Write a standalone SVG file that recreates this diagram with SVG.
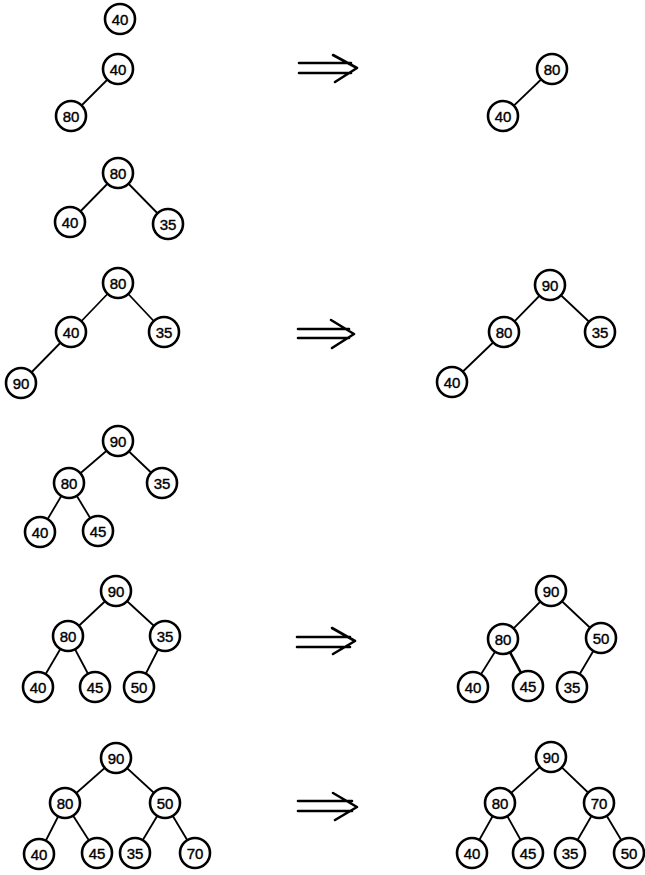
<svg xmlns="http://www.w3.org/2000/svg" width="645" height="875" viewBox="0 0 645 875">
<style>
.n circle{fill:#fff;stroke:#000;stroke-width:2.6}
.n text{font-family:"Liberation Sans",Arial,sans-serif;font-size:15px;text-anchor:middle;dominant-baseline:central;fill:#000;stroke:#000;stroke-width:0.4}
.e line{stroke:#000;stroke-width:1.8}
.a path{fill:none;stroke:#000;stroke-width:2.6;stroke-linecap:round;stroke-linejoin:round}
</style>
<rect width="645" height="875" fill="#fff"/>
<g id="connectors" class="e">
<line x1="118" y1="69" x2="71" y2="116"/>
<line x1="552" y1="69" x2="503" y2="116"/>
<line x1="118" y1="173" x2="70" y2="222"/>
<line x1="118" y1="173" x2="168" y2="224"/>
<line x1="118" y1="283" x2="71" y2="332"/>
<line x1="118" y1="283" x2="164" y2="332"/>
<line x1="71" y1="332" x2="21" y2="383"/>
<line x1="550" y1="285" x2="504" y2="332"/>
<line x1="550" y1="285" x2="600" y2="332"/>
<line x1="504" y1="332" x2="452" y2="382"/>
<line x1="118" y1="441" x2="69" y2="483"/>
<line x1="118" y1="441" x2="162" y2="483"/>
<line x1="69" y1="483" x2="40" y2="532"/>
<line x1="69" y1="483" x2="98" y2="531"/>
<line x1="116" y1="591" x2="68" y2="636"/>
<line x1="116" y1="591" x2="165" y2="636"/>
<line x1="68" y1="636" x2="38" y2="687"/>
<line x1="68" y1="636" x2="95" y2="687"/>
<line x1="165" y1="636" x2="139" y2="687"/>
<line x1="551" y1="591" x2="503" y2="639"/>
<line x1="551" y1="591" x2="601" y2="638"/>
<line x1="503" y1="639" x2="473" y2="687"/>
<line x1="503" y1="639" x2="528" y2="686" style="stroke-width:2.6"/>
<line x1="601" y1="638" x2="572" y2="687"/>
<line x1="116" y1="758" x2="65" y2="803"/>
<line x1="116" y1="758" x2="165" y2="803"/>
<line x1="65" y1="803" x2="39" y2="854"/>
<line x1="65" y1="803" x2="97" y2="853"/>
<line x1="165" y1="803" x2="135" y2="853"/>
<line x1="165" y1="803" x2="195" y2="853"/>
<line x1="551" y1="757" x2="500" y2="803"/>
<line x1="551" y1="757" x2="599" y2="803"/>
<line x1="500" y1="803" x2="472" y2="853"/>
<line x1="500" y1="803" x2="528" y2="853"/>
<line x1="599" y1="803" x2="570" y2="853"/>
<line x1="599" y1="803" x2="629" y2="853"/>
</g>
<g id="arrows" class="a">
<path d="M299 63H351M299 73H351M333 55L357 68L335 82"/>
<path d="M298 329H349M298 338H349M331 320L354 334L332 348"/>
<path d="M297 637H350M297 647H350M332 628L355 641L333 654"/>
<path d="M298 801H352M298 811H352M333 793L357 807L335 820"/>
</g>
<g id="t1-40" class="n"><circle cx="120" cy="19" r="15"/><text x="120" y="19">40</text></g>
<g id="t2-40" class="n"><circle cx="118" cy="69" r="15"/><text x="118" y="69">40</text></g>
<g id="t2-80" class="n"><circle cx="71" cy="116" r="15"/><text x="71" y="116">80</text></g>
<g id="r2-80" class="n"><circle cx="552" cy="69" r="15"/><text x="552" y="69">80</text></g>
<g id="r2-40" class="n"><circle cx="503" cy="116" r="15"/><text x="503" y="116">40</text></g>
<g id="t3-80" class="n"><circle cx="118" cy="173" r="15"/><text x="118" y="173">80</text></g>
<g id="t3-40" class="n"><circle cx="70" cy="222" r="15"/><text x="70" y="222">40</text></g>
<g id="t3-35" class="n"><circle cx="168" cy="224" r="15"/><text x="168" y="224">35</text></g>
<g id="t4-80" class="n"><circle cx="118" cy="283" r="15"/><text x="118" y="283">80</text></g>
<g id="t4-40" class="n"><circle cx="71" cy="332" r="15"/><text x="71" y="332">40</text></g>
<g id="t4-35" class="n"><circle cx="164" cy="332" r="15"/><text x="164" y="332">35</text></g>
<g id="t4-90" class="n"><circle cx="21" cy="383" r="15"/><text x="21" y="383">90</text></g>
<g id="r4-90" class="n"><circle cx="550" cy="285" r="15"/><text x="550" y="285">90</text></g>
<g id="r4-80" class="n"><circle cx="504" cy="332" r="15"/><text x="504" y="332">80</text></g>
<g id="r4-35" class="n"><circle cx="600" cy="332" r="15"/><text x="600" y="332">35</text></g>
<g id="r4-40" class="n"><circle cx="452" cy="382" r="15"/><text x="452" y="382">40</text></g>
<g id="t5-90" class="n"><circle cx="118" cy="441" r="15"/><text x="118" y="441">90</text></g>
<g id="t5-80" class="n"><circle cx="69" cy="483" r="15"/><text x="69" y="483">80</text></g>
<g id="t5-35" class="n"><circle cx="162" cy="483" r="15"/><text x="162" y="483">35</text></g>
<g id="t5-40" class="n"><circle cx="40" cy="532" r="15"/><text x="40" y="532">40</text></g>
<g id="t5-45" class="n"><circle cx="98" cy="531" r="15"/><text x="98" y="531">45</text></g>
<g id="t6-90" class="n"><circle cx="116" cy="591" r="15"/><text x="116" y="591">90</text></g>
<g id="t6-80" class="n"><circle cx="68" cy="636" r="15"/><text x="68" y="636">80</text></g>
<g id="t6-35" class="n"><circle cx="165" cy="636" r="15"/><text x="165" y="636">35</text></g>
<g id="t6-40" class="n"><circle cx="38" cy="687" r="15"/><text x="38" y="687">40</text></g>
<g id="t6-45" class="n"><circle cx="95" cy="687" r="15"/><text x="95" y="687">45</text></g>
<g id="t6-50" class="n"><circle cx="139" cy="687" r="15"/><text x="139" y="687">50</text></g>
<g id="r6-90" class="n"><circle cx="551" cy="591" r="15"/><text x="551" y="591">90</text></g>
<g id="r6-80" class="n"><circle cx="503" cy="639" r="15"/><text x="503" y="639">80</text></g>
<g id="r6-50" class="n"><circle cx="601" cy="638" r="15"/><text x="601" y="638">50</text></g>
<g id="r6-40" class="n"><circle cx="473" cy="687" r="15"/><text x="473" y="687">40</text></g>
<g id="r6-45" class="n"><circle cx="528" cy="686" r="15"/><text x="528" y="686">45</text></g>
<g id="r6-35" class="n"><circle cx="572" cy="687" r="15"/><text x="572" y="687">35</text></g>
<g id="t7-90" class="n"><circle cx="116" cy="758" r="15"/><text x="116" y="758">90</text></g>
<g id="t7-80" class="n"><circle cx="65" cy="803" r="15"/><text x="65" y="803">80</text></g>
<g id="t7-50" class="n"><circle cx="165" cy="803" r="15"/><text x="165" y="803">50</text></g>
<g id="t7-40" class="n"><circle cx="39" cy="854" r="15"/><text x="39" y="854">40</text></g>
<g id="t7-45" class="n"><circle cx="97" cy="853" r="15"/><text x="97" y="853">45</text></g>
<g id="t7-35" class="n"><circle cx="135" cy="853" r="15"/><text x="135" y="853">35</text></g>
<g id="t7-70" class="n"><circle cx="195" cy="853" r="15"/><text x="195" y="853">70</text></g>
<g id="r7-90" class="n"><circle cx="551" cy="757" r="15"/><text x="551" y="757">90</text></g>
<g id="r7-80" class="n"><circle cx="500" cy="803" r="15"/><text x="500" y="803">80</text></g>
<g id="r7-70" class="n"><circle cx="599" cy="803" r="15"/><text x="599" y="803">70</text></g>
<g id="r7-40" class="n"><circle cx="472" cy="853" r="15"/><text x="472" y="853">40</text></g>
<g id="r7-45" class="n"><circle cx="528" cy="853" r="15"/><text x="528" y="853">45</text></g>
<g id="r7-35" class="n"><circle cx="570" cy="853" r="15"/><text x="570" y="853">35</text></g>
<g id="r7-50" class="n"><circle cx="629" cy="853" r="15"/><text x="629" y="853">50</text></g>
</svg>
